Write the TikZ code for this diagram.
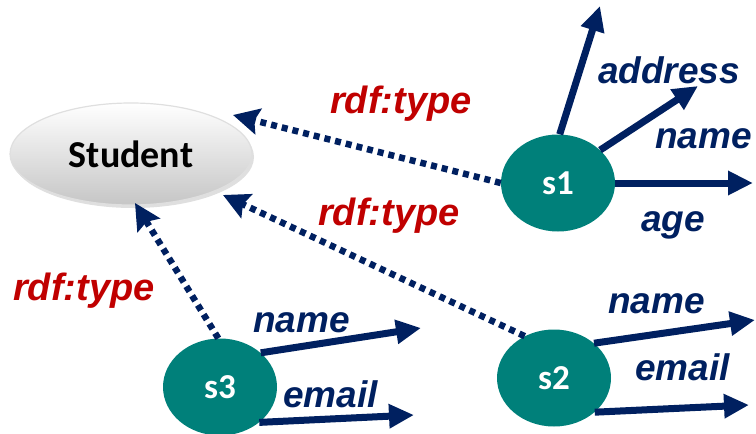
\documentclass[tikz,border=0pt]{standalone}
\usepackage{fontspec}
\setmainfont{Liberation Sans}
\newfontfamily\calib{Carlito}
\usetikzlibrary{shapes.geometric,arrows.meta,shadows}
\definecolor{navy}{HTML}{002060}
\definecolor{tealc}{HTML}{00807A}
\definecolor{redc}{HTML}{C00000}
\begin{document}
\begin{tikzpicture}[x=1pt,y=-1pt,
  inst/.style={ellipse,fill=tealc,inner sep=0pt,minimum width=114pt,minimum height=97pt,text=white,font=\calib\bfseries\fontsize{35}{37}\selectfont},
  cls/.style={ellipse,inner sep=0pt,minimum width=242pt,minimum height=102pt,top color=white,bottom color=gray!45,draw=gray!25,line width=1.2pt,font=\calib\bfseries\fontsize{38}{40}\selectfont,
    drop shadow={shadow xshift=2pt,shadow yshift=-3pt,opacity=0.25}},
  prop/.style={-{Triangle[length=25pt,width=23pt]},line width=7pt,navy},
  typ/.style={-{Stealth[length=26pt,width=26pt,inset=4pt]},line width=6.5pt,navy,dash pattern=on 6pt off 5pt},
  plab/.style={anchor=base west,inner sep=0pt,text=navy,font=\bfseries\itshape\fontsize{37}{40}\selectfont},
  tlab/.style={anchor=base west,inner sep=0pt,text=redc,font=\bfseries\itshape\fontsize{38}{40}\selectfont}]
\useasboundingbox (0,0) rectangle (756,434);

\node[cls] (st) at (131,154) {Student};
\node[inst] (s1) at (558,183) {s1};
\node[inst] (s2) at (554,378) {s2};
\node[inst] (s3) at (220,387) {s3};

% tips
\coordinate (t1up) at (600,6);
\coordinate (t1ad) at (698,86);
\coordinate (t1ag) at (753,183);
\coordinate (t3na) at (421,328);
\coordinate (t3em) at (414,415);
\coordinate (t2na) at (755,320);
\coordinate (t2em) at (749,405);
\coordinate (ty1) at (233,115);
\coordinate (ty2) at (223,195);
\coordinate (ty3) at (135,203);

\draw[prop] (s1.88) -- (t1up);
\draw[prop] (s1.38) -- (t1ad);
\draw[prop] (s1.0) -- (t1ag);
\draw[prop] (s3.40) -- (t3na);
\draw[prop] (s3.-42) -- (t3em);
\draw[prop] (s2.41) -- (t2na);
\draw[prop] (s2.-40) -- (t2em);

\draw[typ] (s1.180) -- (ty1);
\draw[typ] (s2.125) -- (ty2);
\draw[typ] (s3.92) -- (ty3);

\node[plab] (la) at (598,83) {address};
\node[plab] (ln1) at (655,148) {name};
\node[plab] (lag) at (641,231) {age};
\node[plab] (ln3) at (253,332) {name};
\node[plab] (le3) at (283,407) {email};
\node[plab] (ln2) at (608,313) {name};
\node[plab] (le2) at (635,380) {email};

\node[tlab] (r1) at (330,113) {rdf:type};
\node[tlab] (r2) at (318,225) {rdf:type};
\node[tlab] (r3) at (13,300) {rdf:type};
\end{tikzpicture}
\end{document}
